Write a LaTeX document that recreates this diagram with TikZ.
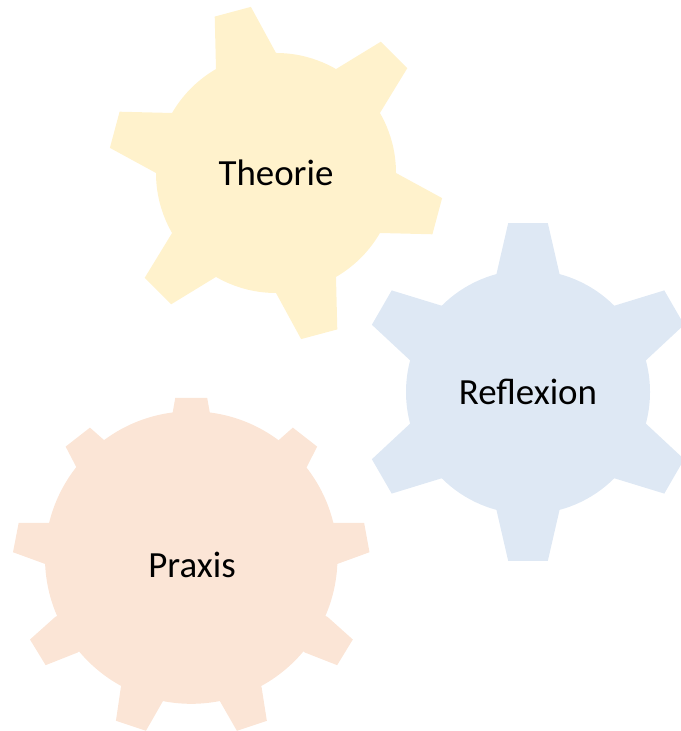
\documentclass[tikz,border=0pt]{standalone}
\usepackage{fontspec}
\setmainfont{Carlito}
\definecolor{theoriefill}{HTML}{FFF2CC}
\definecolor{reflexionfill}{HTML}{DEE8F4}
\definecolor{praxisfill}{HTML}{FBE5D6}
\tikzset{
    gearlabel/.style={font=\fontsize{31.5}{38}\selectfont, text=black, inner sep=0pt}
}

\begin{document}
\begin{tikzpicture}[x=0.03cm, y=0.03cm]
    \useasboundingbox (0,0) rectangle (681,731);

    % Draw the Theorie gear
    \begin{scope}[shift={(276,558)}]
        \fill[theoriefill] (0,0) circle (120);
        \foreach \a in {45,105,...,345} {
            \fill[theoriefill] (0,0) -- (\a-15:120) -- (\a-6.4:168) -- (\a+6.4:168) -- (\a+15:120) -- cycle;
        }
    \end{scope}

    % Draw the Reflexion gear
    \begin{scope}[shift={(528,339)}]
        \fill[reflexionfill] (0,0) circle (122);
        \foreach \a in {30,90,...,330} {
            \fill[reflexionfill] (0,0) -- (\a-15:122) -- (\a-6.7:170) -- (\a+6.7:170) -- (\a+15:122) -- cycle;
        }
    \end{scope}

    % Draw the Praxis gear, its teeth are not regular
    \begin{scope}[x=0.01cm, y=-0.01cm, shift={(0cm,10.23cm)}]
        \fill[praxisfill] (574,503) circle (439);
        \foreach \ax/\ay/\bx/\by/\cx/\cy/\dx/\dy in {
            508/126/526/24/622/24/640/126,
            802/181/879/113/952/170/905/262,
            989/399/1093/399/1109/487/1013/522,
            983/681/1059/749/1012/826/915/788,
            785/891/801/993/711/1023/660/934,
            489/934/438/1023/348/993/363/891,
            233/788/137/826/90/749/166/681,
            135/522/39/487/56/399/160/399,
            245/262/197/170/270/113/347/181} {
            \fill[praxisfill] (574,503) -- (\ax,\ay) -- (\bx,\by) -- (\cx,\cy) -- (\dx,\dy) -- cycle;
        }
    \end{scope}

    % Add the labels
    \node[gearlabel] (theorie) at (276,558) {Theorie};
    \node[gearlabel] (reflexion) at (528,339) {Reflexion};
    \node[gearlabel] (praxis) at (192,166) {Praxis};
\end{tikzpicture}
\end{document}
